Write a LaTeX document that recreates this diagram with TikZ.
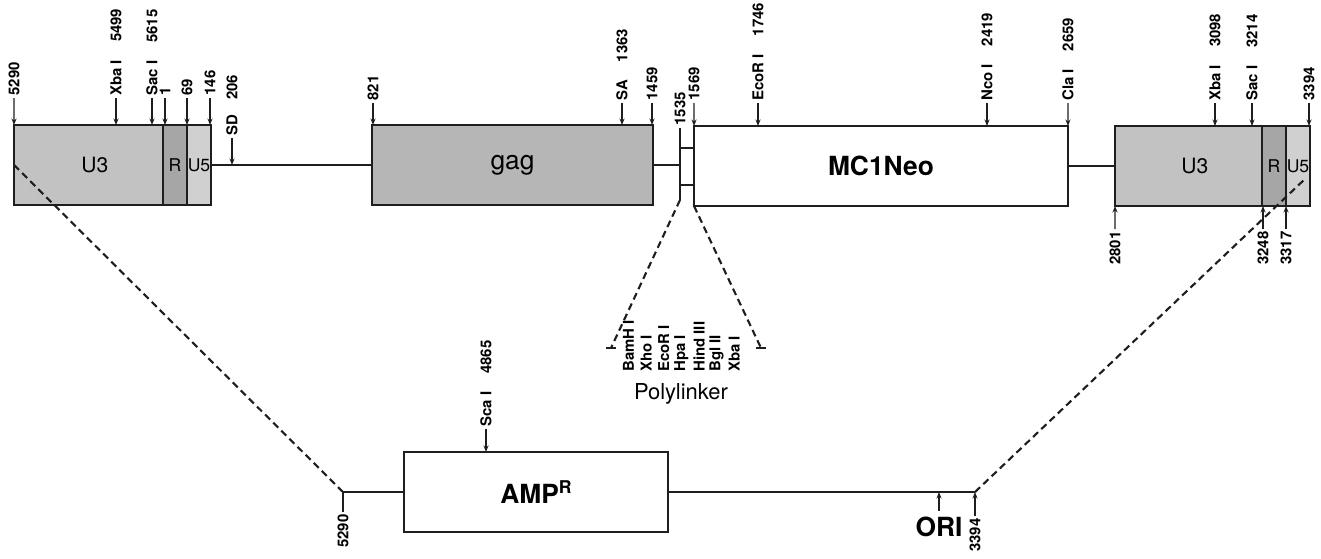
\documentclass[tikz,border=0pt]{standalone}
\usepackage{fontspec}
\setmainfont{TeX Gyre Heros}
\usepackage{tikz}
\usetikzlibrary{arrows.meta, positioning, calc}
\usepackage{xcolor}
\definecolor{ink}{HTML}{1E1E1E}
\definecolor{ltrgray}{HTML}{C2C2C2}
\definecolor{repgray}{HTML}{A6A6A6}
\definecolor{uvgray}{HTML}{D0D0D0}
\definecolor{gaggray}{HTML}{B6B6B6}

\begin{document}
\begin{tikzpicture}[
                x=0.02cm, y=-0.02cm,
                seg/.style={draw=ink, line width=1pt, outer sep=0pt, minimum height=1.6cm, inner sep=0pt, font=\fontsize{12}{14}\selectfont},
                site/.style={rotate=90, anchor=west, inner sep=1.2pt, font=\bfseries\fontsize{8.5}{9}\selectfont},
                sitebelow/.style={site, anchor=east},
                tick/.style={-{Stealth[length=1.3mm, width=1mm]}, line width=0.8pt, draw=ink},
                bb/.style={line width=1pt, draw=ink},
                dsh/.style={line width=1.2pt, draw=ink, dash pattern=on 4pt off 2.5pt}
            ]
                \useasboundingbox (0,0) rectangle (1321,558);

                % left LTR
                \node[seg, fill=ltrgray, minimum width=2.98cm] (lu3) at (88.5,165) {\hspace{0.25cm}U3};
                \node[seg, fill=repgray, minimum width=0.48cm, right=0pt of lu3, label={center:R}] (lr) {};
                \node[seg, fill=uvgray, minimum width=0.48cm, right=0pt of lr, label={center:U5}] (lu5) {};

                % gag and MC1Neo
                \node[seg, fill=gaggray, minimum width=5.62cm, font=\fontsize{15}{17}\selectfont] (gag) at (512.5,165) {gag};
                \node[seg, fill=white, minimum width=7.48cm, font=\bfseries\fontsize{15}{17}\selectfont] (mc) at (881,166) {MC1Neo};

                % right LTR
                \node[seg, fill=ltrgray, minimum width=2.94cm] (ru3) at (1188.5,166) {\hspace{0.25cm}U3};
                \node[seg, fill=repgray, minimum width=0.48cm, right=0pt of ru3, label={center:R}] (rr) {};
                \node[seg, fill=uvgray, minimum width=0.48cm, right=0pt of rr, label={center:U5}] (ru5) {};

                % backbone
                \coordinate (plA) at (680,200);
                \coordinate (rg1) at (680,148);
                \coordinate (rg2) at (680,185);
                \draw[bb] (lu5.east) -- (gag.west);
                \draw[bb] (gag.east) -- (gag.east -| plA);
                \draw[bb] (rg1) -- (rg1 -| mc.west);
                \draw[bb] (rg2) -- (rg2 -| mc.west);
                \draw[bb] (mc.east) -- (ru3.west);

                % sites, top
                \node[site] (s5290) at (14,98) {5290};
                \node[site] (sXbaL) at (116,98) {Xba I\hspace{1.2em}5499};
                \node[site] (sSacL) at (152,98) {Sac I\hspace{1.2em}5615};
                \node[site] (s1) at (165,98) {1};
                \node[site] (s69) at (187,98) {69};
                \node[site] (s146) at (210,98) {146};
                \node[site] (sSD) at (232,138) {SD\hspace{1em}206};
                \node[site] (s821) at (373,103) {821};
                \node[site] (sSA) at (622,103) {SA\hspace{1.2em}1363};
                \node[site] (s1459) at (652,103) {1459};
                \node[site] (s1535) at (680,128) {1535};
                \node[site] (s1569) at (694,103) {1569};
                \node[site] (sEco) at (758,103) {EcoR I\hspace{1.2em}1746};
                \node[site] (sNco) at (987,103) {Nco I\hspace{1.2em}2419};
                \node[site] (sCla) at (1068,103) {Cla I\hspace{1.2em}2659};
                \node[site] (sXbaR) at (1215,103) {Xba I\hspace{1.2em}3098};
                \node[site] (sSacR) at (1252,103) {Sac I\hspace{1.2em}3214};
                \node[site] (s3394) at (1309,103) {3394};

                \draw[tick] (s5290.west) -- (lu3.north west);
                \draw[tick] (sXbaL.west) -- (sXbaL.west |- lu3.north);
                \draw[tick] (sSacL.west) -- (sSacL.west |- lu3.north);
                \draw[tick] (s1.west) -- (s1.west |- lr.north);
                \draw[tick] (s69.west) -- (s69.west |- lu5.north);
                \draw[tick] (s146.west) -- (s146.west |- lu5.north);
                \draw[tick] (sSD.west) -- (sSD.west |- lu5.east);
                \draw[tick] (s821.west) -- (s821.west |- gag.north);
                \draw[tick] (sSA.west) -- (sSA.west |- gag.north);
                \draw[tick] (s1459.west) -- (s1459.west |- gag.north);
                \draw[bb] (s1535.west) -- (plA);
                \draw[tick] (s1569.west) -- (mc.north west);
                \draw[tick] (sEco.west) -- (sEco.west |- mc.north);
                \draw[tick] (sNco.west) -- (sNco.west |- mc.north);
                \draw[tick] (sCla.west) -- (mc.north east);
                \draw[tick] (sXbaR.west) -- (sXbaR.west |- ru3.north);
                \draw[tick] (sSacR.west) -- (sSacR.west |- ru3.north);
                \draw[tick] (s3394.west) -- (s3394.west |- ru5.north);

                % sites, below right LTR
                \node[sitebelow] (s2801) at (1115,229) {2801};
                \node[sitebelow] (s3248) at (1263,229) {3248};
                \node[sitebelow] (s3317) at (1286,229) {3317};
                \draw[tick] (s2801.east) -- (ru3.south west);
                \draw[tick] (s3248.east) -- (s3248.east |- ru3.south);
                \draw[tick] (s3317.east) -- (s3317.east |- ru5.south);

                % polylinker
                \coordinate (plB) at (611,348);
                \coordinate (plC) at (761,348);
                \draw[dsh] (plA) -- (plB);
                \draw[dsh] (mc.south west) -- (plC);
                \draw[bb] ([xshift=-0.1cm]plB) -- ([xshift=0.1cm]plB);
                \draw[bb] ([xshift=-0.1cm]plC) -- ([xshift=0.1cm]plC);
                \foreach \t [count=\i] in {BamH I, Xho I, EcoR I, Hpa I, Hind III, Bgl II, Xba I}
                    \node[site] (pl\i) at (611+17.6*\i,374) {\t};
                \node[font=\fontsize{12.5}{14}\selectfont] (plname) at (681,394) {Polylinker};

                % vector backbone
                \node[seg, fill=white, minimum width=5.28cm, font=\bfseries\fontsize{15}{17}\selectfont] (amp) at (536,492) {AMP\raisebox{0.4em}{\fontsize{10}{10}\selectfont R}};
                \coordinate (vL) at (343,492);
                \coordinate (vR) at (975,492);
                \coordinate (vRtop) at (1306,178);
                \draw[bb] (vL) -- (amp.west);
                \draw[bb] (amp.east) -- (vR);
                \draw[dsh] (lu3.west) -- (vL);
                \draw[dsh] (vR) -- (vRtop);

                \node[site] (sSca) at (486,429) {Sca I\hspace{1.2em}4865};
                \draw[tick] (sSca.west) -- (sSca.west |- amp.north);
                \node[sitebelow] (s5290b) at (343,512) {5290};
                \draw[bb] (s5290b.east) -- (vL);
                \node[sitebelow] (s3394b) at (975,516) {3394};
                \draw[tick] (s3394b.east) -- (vR);
                \node[font=\bfseries\fontsize{15}{17}\selectfont] (ori) at (939,527) {ORI};
                \draw[tick] (ori.north) -- (ori.north |- vR);
            \end{tikzpicture}
\end{document}
